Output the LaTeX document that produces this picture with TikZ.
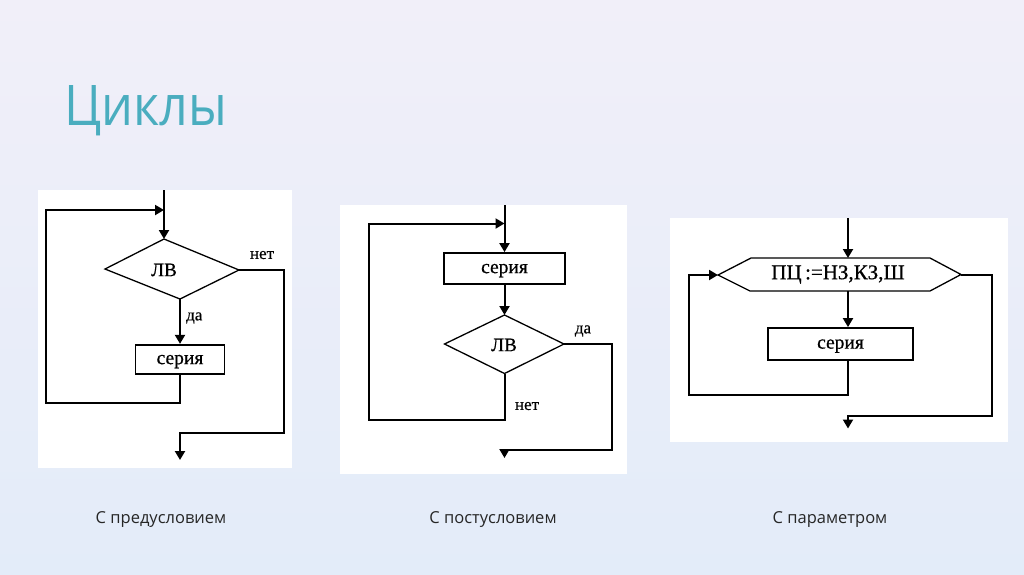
\documentclass[tikz,border=0pt]{standalone}
\usepackage{fontspec}
\setmainfont{Liberation Serif}[FakeBold=0.6]
\newfontfamily\titlefont{Open Sans}
\newfontfamily\capfont{Open Sans}
\usetikzlibrary{arrows.meta}
\definecolor{titlecol}{HTML}{4AADBF}
\definecolor{bgA}{HTML}{F1EFF9}
\definecolor{bgB}{HTML}{E3ECF9}
\begin{document}
\begin{tikzpicture}[x=1pt,y=-1pt,
  conn/.style={line width=2pt},
  arr/.style={conn,-{Triangle[length=9pt,width=10pt]}},
  shapeline/.style={line width=1.3pt},
  box/.style={draw,line width=1.8pt,inner sep=0pt,text depth=0pt,font=\fontsize{19.5}{19.5}\selectfont},
  lv/.style={inner sep=0pt,font=\fontsize{19}{19}\selectfont},
  lbl/.style={inner sep=0pt,font=\fontsize{17}{17}\selectfont},
  caption/.style={inner sep=0pt,font=\capfont\fontsize{16.5}{16.5}\selectfont,text=black!85},
  panel/.style={fill=white}]
\shade[top color=bgA,bottom color=bgB] (0,0) rectangle (1024,574);
\useasboundingbox (0,0) rectangle (1024,574);

\node[anchor=base west,inner sep=0pt,text=titlecol,font=\titlefont\fontsize{56}{56}\selectfont] (title) at (64,125) {\scalebox{0.9}[1]{Циклы}};

% ---------- panel 1: pre-condition ----------
\fill[panel] (38,190) rectangle (292,468);
\coordinate (p1in) at (164,190);
\coordinate (d1t) at (164,239);
\coordinate (d1r) at (239,270);
\coordinate (d1b) at (180,299);
\coordinate (d1l) at (105,269);
\draw[shapeline] (d1t)--(d1r)--(d1b)--(d1l)--cycle;
\node[lv] (lv1) at (164,270) {ЛВ};
\node[box,minimum width=89pt,minimum height=29.5pt] (s1) at (180,359.5) {серия};
\coordinate (l1a) at (46,403);
\coordinate (j1) at (164,210);
\coordinate (e1) at (284,433);
\coordinate (o1) at (180,460);
\draw[arr] (p1in) -- (d1t);
\draw[arr] (d1b) -- (s1.north);
\draw[arr] (s1.south) |- (l1a) |- (j1);
\draw[arr] (d1r) -| (e1) -| (o1);
\node[lbl,anchor=west] (da1) at (186,318) {да};
\node[lbl] (net1) at (262,255) {нет};

% ---------- panel 2: post-condition ----------
\fill[panel] (340,205) rectangle (627,474);
\coordinate (p2in) at (504.5,205);
\node[box,minimum width=121pt,minimum height=31pt] (s2) at (504.5,268.5) {серия};
\coordinate (d2t) at (504.5,315);
\coordinate (d2r) at (564,344);
\coordinate (d2b) at (504.5,373.5);
\coordinate (d2l) at (444.5,344);
\draw[shapeline] (d2t)--(d2r)--(d2b)--(d2l)--cycle;
\node[lv] (lv2) at (504,345) {ЛВ};
\coordinate (l2a) at (369,419.5);
\coordinate (j2) at (504.5,223.5);
\coordinate (e2) at (612,449.5);
\coordinate (o2) at (504.5,458);
\draw[arr] (p2in) -- (s2.north);
\draw[arr] (s2.south) -- (d2t);
\draw[arr] (d2b) |- (l2a) |- (j2);
\draw[arr] (d2r) -| (e2) -| (o2);
\node[lbl] (da2) at (583,331) {да};
\node[lbl] (net2) at (527,406) {нет};

% ---------- panel 3: parameter ----------
\fill[panel] (670,218) rectangle (1008,442);
\coordinate (p3in) at (848,218);
\coordinate (h3tl) at (751,258);
\coordinate (h3t) at (848,258);
\coordinate (h3tr) at (930,258);
\coordinate (h3r) at (961,274.5);
\coordinate (h3br) at (930,291);
\coordinate (h3b) at (848,291);
\coordinate (h3bl) at (750,291);
\coordinate (h3l) at (718,275);
\draw[shapeline] (h3tl)--(h3tr)--(h3r)--(h3br)--(h3bl)--(h3l)--cycle;
\node[inner sep=0pt,font=\fontsize{21}{21}\selectfont] (pc) at (838,274.5) {ПЦ\,:=НЗ,КЗ,Ш};
\node[box,minimum width=145pt,minimum height=32pt] (s3) at (840.5,344) {серия};
\coordinate (l3a) at (689,395);
\coordinate (e3) at (992,416);
\coordinate (o3) at (848,428.5);
\draw[arr] (p3in) -- (h3t);
\draw[arr] (h3b) -- (s3.north -| h3b);
\draw[arr] (s3.south -| h3b) |- (l3a) |- (h3l);
\draw[arr] (h3r) -| (e3) -| (o3);

% ---------- captions ----------
\node[caption] (c1) at (161,519) {С предусловием};
\node[caption] (c2) at (493,519) {С постусловием};
\node[caption] (c3) at (830,519) {С параметром};
\end{tikzpicture}
\end{document}
